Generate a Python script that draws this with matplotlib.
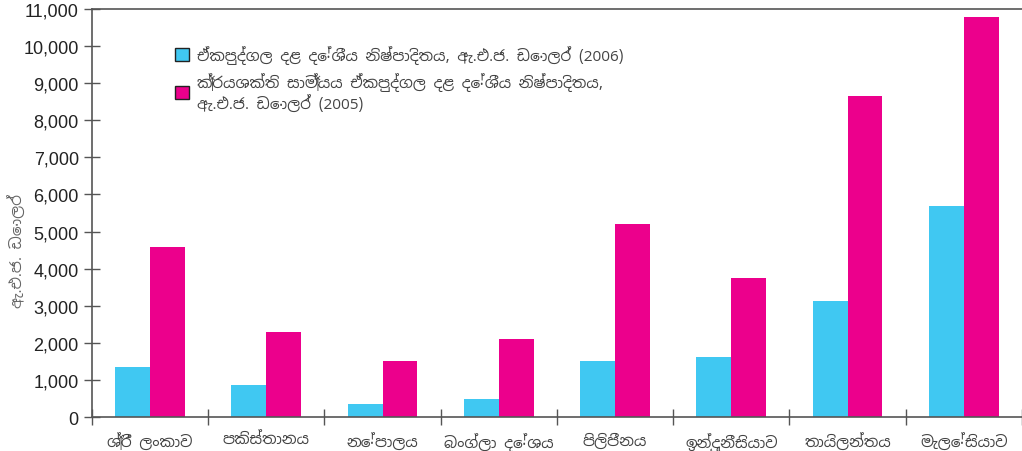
import numpy as np
import matplotlib
matplotlib.use('Agg')
import matplotlib.pyplot as plt
from matplotlib.ticker import FuncFormatter

plt.rcParams['font.family'] = ['Noto Sans Sinhala', 'DejaVu Sans']

countries = ['ශ්‍රී ලංකාව', 'පකිස්තානය', 'නේපාලය', 'බංග්ලා දේශය',
             'පිලිපීනය', 'ඉන්දුනීසියාව', 'තායිලන්තය', 'මැලේසියාව']
gdp_2006 = [1350, 860, 350, 490, 1510, 1620, 3130, 5700]
ppp_2005 = [4590, 2300, 1500, 2100, 5200, 3750, 8650, 10780]

label_gdp = 'ඒකපුද්ගල දළ දේශීය නිෂ්පාදිතය, ඇ.එ.ජ. ඩොලර් (2006)'
label_ppp = 'ක්‍රයශක්ති සාම්‍යය ඒකපුද්ගල දළ දේශීය නිෂ්පාදිතය,\nඇ.එ.ජ. ඩොලර් (2005)'
ylabel = 'ඇ.එ.ජ. ඩොලර්'

blue = '#40C8F2'
pink = '#EC008C'
axis_col = '#555555'
text_col = '#444444'

fig = plt.figure(figsize=(10.22, 4.52), dpi=100)
ax = fig.add_axes([0.09, 0.075, 0.91, 0.903])

x = np.arange(len(countries))
w = 0.3
ax.bar(x - w / 2, gdp_2006, w, color=blue, label=label_gdp)
ax.bar(x + w / 2, ppp_2005, w, color=pink, label=label_ppp)

ax.set_xlim(-0.5, len(countries) - 0.5)
ax.set_ylim(0, 11000)
ax.set_yticks(np.arange(0, 11001, 1000))
ax.yaxis.set_major_formatter(FuncFormatter(lambda v, p: f'{int(v):,}'))

# category labels between the boundary ticks
ax.set_xticks(np.arange(-0.5, len(countries), 1))
ax.set_xticklabels([])
ax.set_xticks(x, minor=True)
ax.set_xticklabels(countries, minor=True, fontsize=11, color=text_col)
ax.tick_params(axis='x', which='minor', length=0, pad=11)
ax.tick_params(axis='x', which='major', direction='inout', length=12, color=axis_col, width=1)
ax.tick_params(axis='y', direction='inout', length=12, color=axis_col, width=1,
               labelsize=13, labelcolor='#222222')
for t in ax.get_yticklabels():
    t.set_family(['Liberation Sans', 'DejaVu Sans'])

for s in ['left', 'bottom', 'top']:
    ax.spines[s].set_color(axis_col)
    ax.spines[s].set_linewidth(1.2)
ax.spines['right'].set_visible(False)

ax.set_ylabel(ylabel, fontsize=11, color='#666666')
ax.yaxis.set_label_coords(-0.071, 0.41)

leg = ax.legend(loc='upper left', bbox_to_anchor=(0.075, 0.945), frameon=False,
                fontsize=11, handlelength=0.9, handleheight=0.9, labelspacing=0.55,
                handletextpad=0.5)
for t in leg.get_texts():
    t.set_color(text_col)
for h in leg.legend_handles:
    h.set_edgecolor('#222222')
    h.set_linewidth(1)

fig.savefig('out.png', dpi=100)
